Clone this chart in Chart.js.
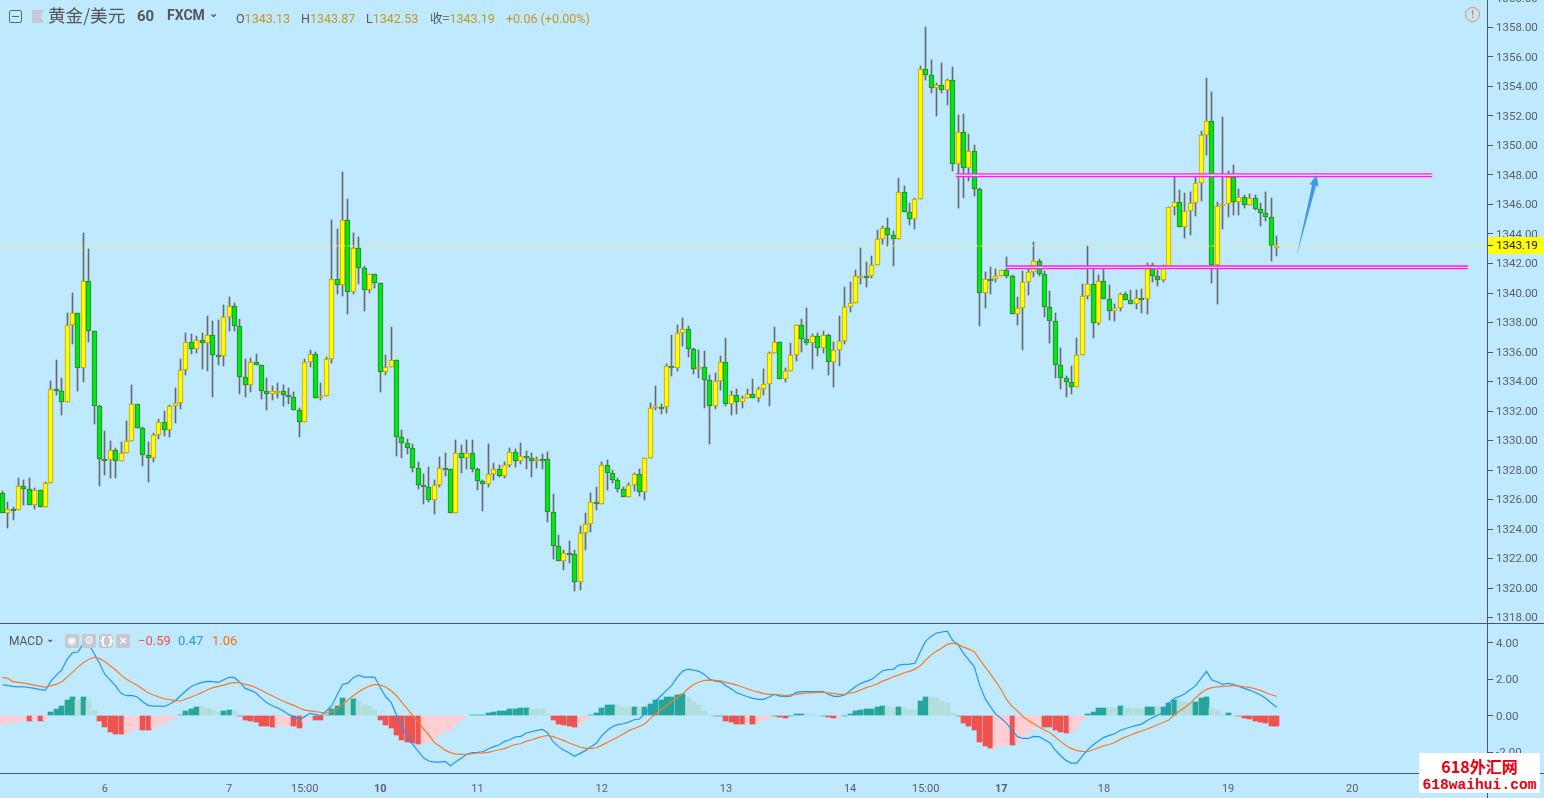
<!DOCTYPE html>
<html>
<head>
<meta charset="utf-8">
<script src="https://cdn.jsdelivr.net/npm/chart.js@4/dist/chart.umd.min.js"></script>
<style>
html, body { margin: 0; padding: 0; width: 1544px; height: 798px; overflow: hidden; background: #bee9ff; font-family: Roboto, sans-serif; }
canvas { position: absolute; left: 0; }
#priceChart { top: -10px; }
#macdChart { top: 624px; }
.txt { position: absolute; white-space: nowrap; line-height: 1; }
.rule { position: absolute; background: #50555c; }
.btn { position: absolute; top: 634px; width: 14px; height: 14px; border-radius: 2px; background: #c5c8d0; color: #fff; font: bold 11px/14px "DejaVu Sans", sans-serif; text-align: center; }
#lastTag { position: absolute; left: 1488px; top: 237px; width: 56px; height: 17px; background: #ffff00; color: #222; font: 11.5px/17px Roboto, sans-serif; }
#lastTag span { position: absolute; left: 8px; top: 0; }
#lastTag i { position: absolute; left: 0; top: 8px; width: 5px; height: 1px; background: #333; }
#mark { position: absolute; left: 1419px; top: 753px; width: 121px; height: 40px; background: #fff; color: #e60012; text-align: center; font-weight: bold; }
#mark div { position: absolute; left: 0; width: 100%; line-height: 1; }
</style>
</head>
<body>
<canvas id="priceChart" width="1544" height="633"></canvas>
<canvas id="macdChart" width="1544" height="174"></canvas>

<div class="rule" style="left:0;top:623px;width:1544px;height:1px"></div>
<div class="rule" style="left:0;top:773px;width:1544px;height:1px"></div>
<div class="rule" style="left:1487px;top:0;width:1px;height:798px"></div>

<div style="position:absolute;left:9px;top:10px;width:11px;height:11px;border:1px solid #666;border-radius:2px"></div>
<div style="position:absolute;left:12px;top:16px;width:7px;height:1px;background:#666"></div>
<div style="position:absolute;left:32px;top:10px;width:12px;height:13px;background:#c6c8d2;clip-path:polygon(0 0,100% 0,70% 50%,100% 100%,0 100%)"></div>
<div class="txt" style="left:48px;top:2px;font:17.6px 'Noto Sans CJK SC';color:#555">黄金/美元</div>
<div class="txt" style="left:137px;top:7px;font:bold 15px Roboto;color:#555">60</div>
<div class="txt" style="left:167px;top:7px;font:bold 14px Roboto;color:#555">FXCM</div>
<div class="txt" style="left:209px;top:7px;font:bold 11px 'DejaVu Sans';color:#444">⌄</div>
<div class="txt" style="left:236px;top:11px;font:12.5px Roboto;color:#555">O<span style="color:#c8961e">1343.13</span></div>
<div class="txt" style="left:301px;top:11px;font:12.5px Roboto;color:#555">H<span style="color:#c8961e">1343.87</span></div>
<div class="txt" style="left:366px;top:11px;font:12.5px Roboto;color:#555">L<span style="color:#c8961e">1342.53</span></div>
<div class="txt" style="left:430px;top:8px;font:12.5px 'Noto Sans CJK SC';color:#555">收=<span style="font-family:Roboto;color:#c8961e">1343.19</span></div>
<div class="txt" style="left:506px;top:11px;font:12.5px Roboto;color:#c8961e">+0.06 (+0.00%)</div>
<div class="txt" style="left:1465px;top:7px;width:13px;height:13px;border:1px solid #f0854a;border-radius:50%;text-align:center;font:bold 10px/13px Roboto;color:#f0854a">!</div>

<div id="lastTag"><i></i><span>1343.19</span></div>

<div class="txt" style="left:9px;top:634px;font:12px Roboto;color:#555">MACD</div>
<div class="txt" style="left:46px;top:633px;font:bold 10px 'DejaVu Sans';color:#444">⌄</div>
<div class="btn" style="left:65px">◉</div>
<div class="btn" style="left:82px">⚙</div>
<div class="btn" style="left:99px">{}</div>
<div class="btn" style="left:116px">×</div>
<div class="txt" style="left:138px;top:633px;font:13px Roboto;color:#ef5350">−0.59</div>
<div class="txt" style="left:178px;top:633px;font:13px Roboto;color:#2196f3">0.47</div>
<div class="txt" style="left:212px;top:633px;font:13px Roboto;color:#ff6d00">1.06</div>

<div id="mark">
  <div style="top:1px;font:bold 16px 'Noto Sans CJK SC'">618外汇网</div>
  <div style="top:24px;font:bold 14.6px 'Liberation Mono'">618waihui.com</div>
</div>

<script>
const opens = [
  1326.42,1325.06,1325.38,1325.27,1326.89,1326.69,1325.61,1326.62,1325.47,1327.10,
  1333.47,1333.33,1332.59,1337.81,1338.62,1334.89,1340.79,1337.40,1332.32,1328.72,
  1328.66,1329.33,1328.59,1329.13,1329.94,1332.45,1330.83,1329.00,1328.79,1330.35,
  1331.23,1330.69,1332.32,1332.52,1334.76,1336.66,1336.18,1336.79,1336.59,1337.13,
  1335.78,1335.71,1338.35,1339.10,1337.74,1334.28,1333.74,1335.30,1335.10,1333.33,
  1333.13,1333.31,1333.33,1333.06,1332.93,1332.05,1331.23,1335.30,1335.84,1332.86,
  1333.00,1335.50,1340.93,1340.52,1344.93,1340.05,1343.03,1341.67,1340.18,1341.27,
  1340.66,1334.62,1334.96,1335.44,1330.22,1329.81,1329.47,1328.11,1326.96,1326.83,
  1325.94,1326.96,1328.11,1328.09,1325.06,1329.13,1328.79,1329.13,1328.05,1327.23,
  1327.03,1327.71,1328.05,1327.57,1328.32,1329.20,1328.59,1328.93,1328.79,1328.59,
  1328.72,1328.72,1325.13,1322.83,1321.81,1322.35,1322.28,1320.39,1323.71,1324.32,
  1325.81,1325.67,1328.32,1327.78,1327.30,1326.69,1326.15,1326.96,1327.71,1326.49,
  1328.79,1332.18,1332.30,1332.25,1335.03,1334.89,1337.27,1337.54,1336.18,1334.83,
  1334.96,1334.08,1332.32,1334.01,1335.30,1332.45,1333.06,1332.59,1332.86,1333.13,
  1332.86,1333.47,1333.81,1335.91,1336.66,1334.15,1334.69,1335.78,1337.81,1336.86,
  1336.59,1337.06,1336.25,1337.13,1335.30,1336.11,1336.72,1339.03,1339.30,1341.13,
  1341.18,1341.13,1341.88,1343.64,1344.39,1343.91,1343.64,1346.83,1345.47,1345.00,
  1346.35,1355.17,1354.76,1353.88,1354.08,1353.74,1354.42,1348.72,1350.89,1348.45,
  1349.61,1347.03,1339.98,1340.93,1340.93,1341.13,1341.54,1341.13,1338.56,1338.96,
  1340.72,1341.40,1342.15,1341.27,1339.03,1338.08,1335.10,1334.22,1333.94,1333.61,
  1335.78,1339.78,1340.59,1337.94,1340.79,1339.57,1338.76,1338.96,1339.91,1339.50,
  1339.23,1339.64,1339.57,1341.88,1341.13,1340.86,1341.74,1345.81,1346.15,1344.45,
  1345.54,1346.08,1347.44,1350.69,1351.64,1341.88,1345.88,1346.01,1347.84,1346.15,
  1346.49,1345.94,1346.42,1345.67,1345.40,1345.13,1343.13
];
const highs = [
  1326.58,1325.83,1325.52,1327.44,1327.32,1327.44,1326.78,1326.62,1327.19,1334.03,
  1335.46,1334.22,1338.62,1339.98,1338.62,1344.07,1342.98,1337.40,1332.41,1330.65,
  1329.97,1329.47,1329.90,1331.32,1333.76,1332.45,1330.92,1329.90,1330.51,1331.46,
  1332.00,1332.41,1333.54,1335.50,1337.29,1337.22,1337.09,1337.29,1338.44,1338.10,
  1338.17,1339.19,1339.73,1339.30,1338.24,1335.50,1335.59,1335.84,1335.10,1334.22,
  1333.70,1333.88,1333.76,1333.54,1333.27,1332.18,1335.50,1336.11,1335.98,1333.88,
  1335.66,1344.93,1344.32,1348.20,1346.37,1344.05,1343.78,1341.81,1341.27,1341.27,
  1340.66,1335.78,1337.70,1335.44,1330.69,1330.08,1329.74,1328.52,1327.73,1328.18,
  1327.30,1328.86,1329.13,1328.09,1330.01,1329.67,1330.01,1330.01,1328.11,1327.30,
  1329.74,1328.45,1328.32,1328.52,1329.47,1329.40,1329.81,1329.27,1329.13,1328.86,
  1329.06,1329.20,1326.35,1323.59,1322.55,1323.16,1322.55,1324.18,1325.06,1326.42,
  1326.83,1328.52,1328.66,1327.98,1327.44,1326.87,1327.10,1327.78,1328.05,1328.79,
  1332.52,1333.70,1332.48,1335.17,1337.15,1337.83,1338.31,1337.74,1336.25,1336.11,
  1336.05,1334.44,1334.56,1335.71,1336.95,1333.33,1333.49,1333.00,1333.49,1334.17,
  1333.61,1334.85,1335.98,1337.67,1336.66,1334.89,1336.61,1337.81,1338.24,1338.96,
  1337.20,1337.27,1337.40,1337.20,1336.68,1338.44,1340.41,1340.75,1341.56,1343.05,
  1342.08,1342.49,1344.27,1344.54,1345.06,1344.20,1347.78,1347.23,1346.10,1346.44,
  1355.37,1358.04,1355.80,1354.22,1355.59,1354.49,1355.32,1352.07,1352.14,1350.78,
  1350.04,1347.10,1341.43,1341.76,1341.63,1341.54,1342.44,1341.22,1339.71,1341.49,
  1341.79,1343.44,1342.28,1341.49,1340.14,1338.62,1336.25,1334.35,1335.05,1336.93,
  1340.61,1343.19,1341.63,1341.22,1341.63,1340.54,1339.23,1340.00,1340.07,1340.20,
  1340.20,1340.27,1342.01,1342.04,1341.56,1341.88,1345.81,1348.00,1346.96,1346.78,
  1346.85,1348.00,1350.98,1354.56,1353.61,1346.17,1351.93,1348.25,1348.68,1347.03,
  1346.62,1346.69,1346.62,1346.08,1346.85,1346.42,1343.87
];
const lows = [
  1325.06,1324.07,1324.61,1325.27,1325.63,1325.61,1325.36,1325.47,1325.47,1327.10,
  1333.09,1331.73,1332.59,1336.54,1333.36,1333.97,1336.68,1331.12,1326.92,1327.66,
  1327.46,1327.46,1328.59,1329.13,1329.94,1330.83,1328.27,1327.19,1328.54,1330.10,
  1330.31,1330.24,1331.19,1332.14,1334.44,1335.87,1335.93,1334.85,1334.71,1332.95,
  1335.12,1335.05,1337.42,1337.42,1333.15,1332.95,1333.29,1335.10,1332.81,1332.07,
  1332.75,1332.88,1332.34,1332.48,1332.05,1330.24,1331.23,1335.01,1332.86,1332.75,
  1333.00,1335.28,1339.93,1339.80,1338.58,1339.93,1340.61,1338.78,1340.00,1340.34,
  1333.29,1334.44,1334.96,1328.95,1328.81,1329.09,1327.87,1326.71,1325.70,1325.83,
  1325.02,1326.85,1327.59,1325.06,1325.06,1327.80,1328.07,1327.87,1326.65,1325.22,
  1326.85,1327.32,1327.53,1327.46,1328.20,1328.20,1328.41,1328.07,1327.53,1328.14,
  1328.07,1324.48,1321.97,1321.81,1321.22,1321.70,1319.80,1319.87,1322.58,1323.80,
  1325.29,1325.67,1326.65,1327.12,1326.51,1326.15,1326.15,1326.55,1326.24,1325.97,
  1328.79,1332.07,1331.80,1331.87,1334.37,1334.71,1336.41,1335.66,1334.51,1334.24,
  1332.20,1329.76,1332.14,1333.43,1332.34,1331.73,1331.80,1332.20,1332.86,1332.86,
  1332.61,1333.09,1332.34,1335.91,1334.15,1333.97,1334.69,1335.39,1336.00,1336.48,
  1334.85,1335.73,1335.93,1334.44,1333.63,1335.05,1336.54,1338.71,1339.30,1340.61,
  1340.41,1341.02,1341.88,1343.32,1343.19,1341.83,1343.64,1345.47,1344.61,1344.34,
  1346.35,1354.44,1353.56,1352.00,1353.56,1352.75,1348.27,1345.76,1346.44,1347.59,
  1346.58,1337.76,1338.98,1339.93,1340.75,1341.13,1341.02,1338.56,1337.83,1336.14,
  1339.87,1341.09,1341.15,1338.37,1336.61,1334.24,1333.49,1332.95,1333.15,1333.61,
  1335.78,1339.59,1336.95,1337.83,1339.57,1338.17,1338.10,1338.78,1339.50,1339.23,
  1338.92,1338.65,1338.58,1340.75,1340.48,1340.75,1341.74,1345.29,1344.45,1343.73,
  1343.93,1345.22,1346.24,1349.36,1340.68,1339.26,1344.34,1345.15,1345.29,1345.29,
  1345.76,1345.94,1345.61,1344.54,1344.88,1342.17,1342.53
];
const closes = [
  1325.06,1325.38,1325.27,1326.89,1326.69,1325.61,1326.62,1325.47,1327.10,1333.47,
  1333.33,1332.59,1337.81,1338.62,1334.89,1340.79,1337.40,1332.32,1328.72,1328.66,
  1329.33,1328.59,1329.13,1329.94,1332.45,1330.83,1329.00,1328.79,1330.35,1331.23,
  1330.69,1332.32,1332.52,1334.76,1336.66,1336.18,1336.79,1336.59,1337.13,1335.78,
  1335.71,1338.35,1339.10,1337.74,1334.28,1333.74,1335.30,1335.10,1333.33,1333.13,
  1333.33,1333.33,1333.06,1332.93,1332.05,1331.23,1335.30,1335.84,1332.86,1333.00,
  1335.50,1340.93,1340.52,1344.93,1340.05,1343.03,1341.67,1340.18,1341.27,1340.66,
  1334.62,1334.96,1335.44,1330.22,1329.81,1329.47,1328.11,1326.96,1326.83,1325.94,
  1326.96,1328.11,1328.09,1325.06,1329.13,1328.79,1329.13,1328.05,1327.23,1327.03,
  1327.71,1328.05,1327.57,1328.32,1329.20,1328.59,1328.93,1328.79,1328.59,1328.72,
  1328.70,1325.13,1322.83,1321.81,1322.35,1322.28,1320.39,1323.71,1324.32,1325.81,
  1325.67,1328.32,1327.78,1327.30,1326.69,1326.15,1326.96,1327.71,1326.49,1328.79,
  1332.18,1332.32,1332.25,1335.03,1334.89,1337.27,1337.54,1336.18,1334.83,1334.96,
  1334.08,1332.32,1334.01,1335.30,1332.45,1333.06,1332.59,1332.86,1333.13,1332.86,
  1333.47,1333.81,1335.91,1336.66,1334.15,1334.69,1335.78,1337.81,1336.86,1336.59,
  1337.06,1336.25,1337.13,1335.30,1336.11,1336.72,1339.03,1339.30,1341.13,1341.18,
  1341.13,1341.88,1343.64,1344.39,1343.91,1343.64,1346.83,1345.47,1345.00,1346.35,
  1355.17,1354.76,1353.88,1354.08,1353.74,1354.42,1348.72,1350.89,1348.45,1349.61,
  1347.03,1339.98,1340.93,1340.90,1341.13,1341.54,1341.13,1338.56,1338.96,1340.72,
  1341.40,1342.15,1341.27,1339.03,1338.08,1335.10,1334.22,1333.94,1333.61,1335.78,
  1339.78,1340.59,1337.94,1340.79,1339.57,1338.76,1338.96,1339.91,1339.50,1339.23,
  1339.64,1339.57,1341.88,1341.13,1340.86,1341.74,1345.81,1346.15,1344.45,1345.54,
  1346.08,1347.44,1350.69,1351.64,1341.88,1345.88,1346.01,1347.84,1346.15,1346.49,
  1345.94,1346.42,1345.67,1345.40,1345.13,1343.19,1343.19
];

const macdHist = [
  -.46,-.40,-.37,-.33,-.26,-.28,-.22,-.29,-.24,.22,
  .37,.53,.88,1.03,.88,1.03,.88,.33,-.27,-.64,
  -.88,-.99,-1.03,-1.02,-.79,-.73,-.77,-.78,-.68,-.49,
  -.46,-.26,-.15,.04,.27,.37,.49,.48,.40,.31,
  .22,.27,.33,.26,-.04,-.26,-.29,-.37,-.55,-.59,
  -.64,-.59,-.58,-.57,-.59,-.66,-.33,-.09,-.22,-.23,
  .02,.37,.55,.97,.82,.92,.82,.60,.55,.33,
  -.22,-.49,-.66,-1.06,-1.32,-1.43,-1.50,-1.54,-1.53,-1.47,
  -1.32,-1.01,-.82,-.77,-.46,-.22,-.04,.04,.05,.06,
  .13,.18,.24,.27,.37,.38,.42,.43,.37,.36,
  .35,.07,-.22,-.44,-.51,-.55,-.60,-.46,-.26,.05,
  .15,.44,.60,.61,.60,.49,.48,.50,.40,.49,
  .66,.88,.89,1.04,1.05,1.14,1.17,1.04,.77,.59,
  .27,.05,-.04,0,-.27,-.33,-.44,-.45,-.44,-.45,
  -.33,-.26,-.13,0,-.09,-.10,0,.09,.10,.09,
  .08,0,0,-.09,-.15,-.09,0,.09,.26,.33,
  .37,.38,.49,.55,.49,.40,.49,.44,.33,.32,
  .82,1.04,1.03,.97,.82,.70,.15,-.04,-.38,-.55,
  -.81,-1.43,-1.68,-1.79,-1.78,-1.68,-1.59,-1.60,-1.47,-1.21,
  -.97,-.70,-.46,-.60,-.61,-.77,-.92,-.93,-.92,-.66,
  -.26,.11,.18,.40,.44,.43,.42,.51,.44,.43,
  .40,.38,.49,.50,.49,.50,.70,.86,.81,.73,
  .72,.77,.95,1.03,.44,.26,.09,.16,0,-.04,
  -.15,-.16,-.27,-.33,-.38,-.57,-.59
];
const macdLine = [
  1.70,1.65,1.61,1.58,1.59,1.54,1.50,1.43,1.41,1.90,
  2.23,2.51,3.11,3.46,3.50,3.96,3.96,3.42,2.88,2.27,
  1.96,1.63,1.23,1.10,1.12,1.03,.77,.57,.53,.53,
  .51,.64,.81,1.10,1.37,1.61,1.74,1.83,1.89,1.87,
  1.83,1.98,2.11,2.09,1.83,1.50,1.39,1.25,.95,.71,
  .55,.42,.27,.07,-.05,-.24,-.05,.13,.07,0,
  .26,.55,1.14,1.72,1.79,2.09,2.23,2.12,2.12,2.11,
  1.54,1.04,.73,.04,-.60,-1.10,-1.58,-1.94,-2.31,-2.49,
  -2.55,-2.55,-2.51,-2.75,-2.53,-2.34,-2.12,-2.03,-2.01,-1.98,
  -1.83,-1.70,-1.61,-1.41,-1.32,-1.17,-1.14,-.95,-.88,-.81,
  -.75,-.95,-1.43,-1.70,-1.90,-2.05,-2.23,-2.07,-1.92,-1.70,
  -1.52,-1.10,-.81,-.59,-.49,-.44,-.35,-.22,-.18,.13,
  .42,.81,1.10,1.39,1.68,2.12,2.45,2.56,2.51,2.44,
  2.27,2.01,1.90,1.87,1.65,1.47,1.26,1.15,1.04,.95,
  .90,.90,1.03,1.17,1.08,1.06,1.08,1.28,1.32,1.32,
  1.32,1.32,1.34,1.17,1.06,1.06,1.14,1.37,1.61,1.78,
  1.89,2.00,2.23,2.47,2.53,2.55,2.78,2.82,2.84,2.88,
  3.52,4.10,4.36,4.54,4.60,4.65,4.14,3.92,3.42,3.06,
  2.69,1.68,.95,.49,.07,-.15,-.42,-.81,-1.15,-1.25,
  -1.25,-1.14,-1.15,-1.32,-1.48,-1.89,-2.20,-2.47,-2.60,-2.60,
  -2.22,-1.87,-1.61,-1.39,-1.19,-1.08,-.99,-.81,-.70,-.62,
  -.53,-.46,-.26,-.11,.04,.16,.68,.95,1.06,1.21,
  1.43,1.65,2.05,2.44,1.96,1.87,1.72,1.78,1.72,1.61,
  1.50,1.41,1.28,1.14,.95,.70,.47
];
const signalLine = [
  2.11,2.05,1.87,1.83,1.79,1.74,1.68,1.63,1.56,1.65,
  1.72,1.87,2.12,2.38,2.67,2.91,3.10,3.21,3.15,2.97,
  2.75,2.51,2.23,2.01,1.83,1.68,1.47,1.26,1.14,1.03,
  .93,.88,.84,.81,.92,1.03,1.15,1.28,1.43,1.54,
  1.61,1.68,1.78,1.83,1.81,1.72,1.65,1.54,1.39,1.23,
  1.10,.95,.81,.68,.57,.42,.31,.27,.22,.18,
  .16,.22,.40,.62,.88,1.10,1.32,1.50,1.63,1.72,
  1.68,1.58,1.37,1.10,.73,.37,0,-.37,-.73,-1.06,
  -1.47,-1.67,-1.89,-2.03,-2.11,-2.12,-2.12,-2.09,-2.05,-2.05,
  -2.01,-1.94,-1.87,-1.81,-1.68,-1.58,-1.54,-1.41,-1.32,-1.23,
  -1.14,-1.08,-1.15,-1.25,-1.37,-1.50,-1.61,-1.72,-1.79,-1.79,
  -1.76,-1.63,-1.47,-1.32,-1.17,-1.01,-.82,-.70,-.59,-.44,
  -.16,.09,.33,.55,.77,.99,1.21,1.48,1.72,1.85,
  1.94,1.96,1.94,1.92,1.83,1.76,1.68,1.58,1.48,1.37,
  1.30,1.21,1.17,1.17,1.14,1.10,1.14,1.17,1.21,1.25,
  1.25,1.28,1.30,1.25,1.23,1.17,1.19,1.25,1.30,1.43,
  1.54,1.63,1.74,1.90,2.01,2.14,2.23,2.36,2.44,2.56,
  2.75,3.06,3.33,3.55,3.72,3.92,3.99,3.92,3.77,3.66,
  3.52,3.08,2.69,2.29,1.87,1.43,.88,.51,.26,-.04,
  -.26,-.44,-.62,-.79,-.93,-1.17,-1.41,-1.65,-1.81,-1.92,
  -1.96,-1.98,-1.87,-1.76,-1.65,-1.58,-1.47,-1.30,-1.17,-1.06,
  -.93,-.84,-.73,-.62,-.48,-.37,-.24,.04,.26,.46,
  .68,.99,1.25,1.45,1.54,1.59,1.61,1.63,1.67,1.63,
  1.59,1.56,1.48,1.39,1.26,1.15,1.06
];

// day labels under the chart, and the bar each one sits under
const dateLabels = ['6', '7', '15:00', '10', '11', '12', '13', '14', '15:00', '17', '18', '19', '20'];
const dateBars = [19, 42, 56, 70, 88, 111, 134, 157, 171, 185, 204, 227, 250];
const boldDates = ['10', '17'];

const lastPrice = 1343.19;
const upperLevel = { from: 176.6, to: 264.8, price: 1347.98 };
const lowerLevel = { from: 185.9, to: 271.4, price: 1341.74 };
const arrowTail = { x: 239.7, y: 1342.5 };
const arrowTip = { x: 243.4, y: 1348.02 };

const xMin = -0.426, xMax = 275.13;
const axisColor = '#5d6066';
const bars = opens.map((_, i) => i);

const fixAxis = scale => {
    scale.width = 56;
    scale.paddingTop = 0;
    scale.paddingBottom = 0;
};

// keep candles and histogram on whole pixels, as the original does
const snapBars = {
    id: 'snapBars',
    beforeDatasetsDraw(chart) {
        chart.getSortedVisibleDatasetMetas().forEach(meta => {
            if (meta.type !== 'bar') return;
            meta.data.forEach(el => {
                el.x = Math.floor(el.x) + 0.5;
                if (isNaN(el.y) || isNaN(el.base)) return;
                let top = Math.round(Math.min(el.y, el.base));
                let bottom = Math.round(Math.max(el.y, el.base));
                if (meta.controller.getDataset().minHeight && bottom - top < 2) bottom = top + 2;
                el.y = top;
                el.base = bottom;
                el.height = bottom - top;
            });
        });
    }
};

const drawArrow = {
    id: 'drawArrow',
    afterDatasetsDraw(chart) {
        const { ctx, scales } = chart;
        const tx = scales.x.getPixelForValue(arrowTail.x), ty = scales.y.getPixelForValue(arrowTail.y);
        const hx = scales.x.getPixelForValue(arrowTip.x), hy = scales.y.getPixelForValue(arrowTip.y);
        const len = Math.hypot(hx - tx, hy - ty);
        const dx = (hx - tx) / len, dy = (hy - ty) / len;
        const nx = -dy, ny = dx;
        const mx = hx - dx * 11, my = hy - dy * 11;
        ctx.save();
        ctx.fillStyle = '#3f97e6';
        ctx.beginPath();
        ctx.moveTo(tx, ty);
        ctx.lineTo(mx + nx * 2, my + ny * 2);
        ctx.lineTo(mx + nx * 4.5, my + ny * 4.5);
        ctx.lineTo(hx, hy);
        ctx.lineTo(mx - nx * 4.5, my - ny * 4.5);
        ctx.lineTo(mx - nx * 2, my - ny * 2);
        ctx.closePath();
        ctx.fill();
        ctx.restore();
    }
};

const levelData = l => [{ x: l.from, y: l.price }, { x: l.to, y: l.price }];

const levelDatasets = [upperLevel, lowerLevel].flatMap(l => [
    { type: 'line', data: levelData(l), borderColor: '#fbd0fb', borderWidth: 1.4, pointRadius: 0, order: 0 },
    { type: 'line', data: levelData(l), borderColor: '#ff1cf5', borderWidth: 4, pointRadius: 0, order: 1 }
]);

new Chart(document.getElementById('priceChart').getContext('2d'), {
    type: 'bar',
    plugins: [snapBars, drawArrow],
    data: {
        datasets: [
            ...levelDatasets,
            {
                type: 'line',
                data: [{ x: xMin, y: lastPrice }, { x: xMax, y: lastPrice }],
                borderColor: '#f6f63a',
                borderWidth: 1,
                borderDash: [2, 2],
                pointRadius: 0,
                order: 2
            },
            {
                data: bars.map(i => ({ x: i, y: [opens[i], closes[i]] })),
                grouped: false,
                minHeight: true,
                barThickness: 5,
                borderWidth: 1,
                borderSkipped: false,
                backgroundColor: bars.map(i => closes[i] >= opens[i] ? '#ffff00' : '#00e813'),
                borderColor: bars.map(i => closes[i] >= opens[i] ? '#c89a0c' : '#2f7d2f'),
                order: 3
            },
            {
                data: bars.map(i => ({ x: i, y: [lows[i], highs[i]] })),
                grouped: false,
                barThickness: 1,
                backgroundColor: '#6a6a6a',
                order: 4
            }
        ]
    },
    options: {
        responsive: false,
        animation: false,
        layout: { padding: 0 },
        plugins: { legend: { display: false }, tooltip: { enabled: false } },
        scales: {
            x: { type: 'linear', display: false, offset: false, min: xMin, max: xMax },
            y: {
                position: 'right',
                min: 1317.63,
                max: 1360.54,
                afterFit: fixAxis,
                border: { display: false },
                grid: { drawOnChartArea: false, tickLength: 5, color: '#50555c' },
                ticks: {
                    stepSize: 2,
                    includeBounds: false,
                    labelOffset: 1,
                    color: axisColor,
                    font: { family: 'Roboto', size: 11.5 },
                    callback: v => v.toFixed(2)
                }
            }
        }
    }
});

const histColor = (v, i) => {
    const prev = macdHist[i - 1];
    if (v >= 0) return v >= (prev ?? v) ? '#26a69a' : '#b2dfdb';
    return v < prev ? '#ef5350' : '#ffcdd2';
};

new Chart(document.getElementById('macdChart').getContext('2d'), {
    type: 'bar',
    plugins: [snapBars],
    data: {
        datasets: [
            {
                type: 'line',
                data: bars.map(i => ({ x: i, y: signalLine[i] })),
                borderColor: '#f57c1f',
                borderWidth: 1.2,
                pointRadius: 0,
                order: 0
            },
            {
                type: 'line',
                data: bars.map(i => ({ x: i, y: macdLine[i] })),
                borderColor: '#2196f3',
                borderWidth: 1.2,
                pointRadius: 0,
                order: 1
            },
            {
                data: bars.map(i => ({ x: i, y: macdHist[i] })),
                grouped: false,
                barThickness: 5,
                backgroundColor: macdHist.map(histColor),
                order: 2
            }
        ]
    },
    options: {
        responsive: false,
        animation: false,
        layout: { padding: 0 },
        plugins: { legend: { display: false }, tooltip: { enabled: false } },
        scales: {
            x: {
                type: 'linear',
                offset: false,
                min: xMin,
                max: xMax,
                afterBuildTicks: scale => { scale.ticks = dateBars.map(v => ({ value: v })); },
                afterFit: scale => {
                    scale.height = 25;
                    scale.paddingLeft = 0;
                    scale.paddingRight = 0;
                },
                border: { display: false },
                grid: { display: false, drawTicks: false },
                ticks: {
                    autoSkip: false,
                    maxRotation: 0,
                    padding: 10,
                    color: axisColor,
                    font: ctx => ({
                        family: 'Roboto',
                        size: 11,
                        weight: boldDates.includes(dateLabels[ctx.index]) ? 'bold' : 'normal'
                    }),
                    callback: (v, i) => dateLabels[i]
                }
            },
            y: {
                position: 'right',
                min: -3.148,
                max: 5.04,
                afterFit: fixAxis,
                border: { display: false },
                grid: { drawOnChartArea: false, tickLength: 5, color: '#50555c' },
                ticks: {
                    stepSize: 2,
                    includeBounds: false,
                    labelOffset: 1,
                    color: axisColor,
                    font: { family: 'Roboto', size: 11.5 },
                    callback: v => v.toFixed(2)
                }
            }
        }
    }
});
</script>
</body>
</html>
